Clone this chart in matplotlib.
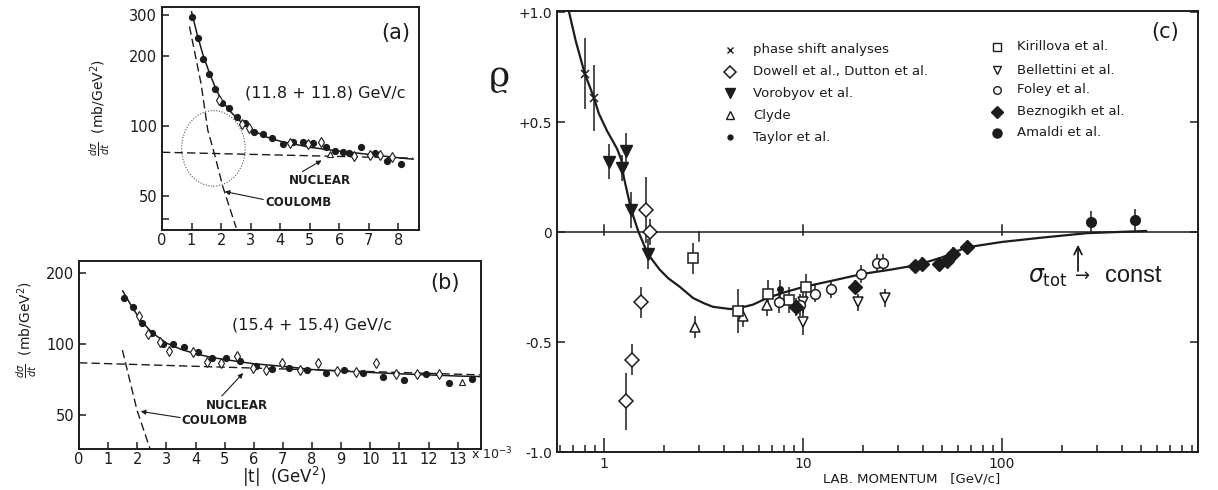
import numpy as np
import matplotlib
matplotlib.use("Agg")
import matplotlib.pyplot as plt
from matplotlib.patches import Ellipse, FancyArrowPatch
from matplotlib.lines import Line2D
from matplotlib.ticker import FixedLocator, FixedFormatter, NullLocator

# ---------------- panel (a): 11.8 + 11.8 GeV/c ----------------
a_t_filled = [1.03, 1.21, 1.40, 1.60, 1.81, 2.03, 2.26, 2.54, 2.82, 3.11, 3.41, 3.72,
              4.09, 4.43, 4.77, 5.10, 5.56, 5.87, 6.12, 6.33, 6.72, 7.20, 7.63, 8.08]
a_val_filled = [295, 240, 194, 168, 144, 126, 119, 109, 103, 94.5, 92, 88.5,
                83.7, 85.6, 85, 84.3, 81.5, 78, 77.5, 76.8, 81.5, 76.3, 70.7, 68.4]
a_t_open = [1.94, 2.70, 2.95, 4.32, 4.94, 5.39, 6.50, 7.03, 7.39, 7.80]
a_val_open = [130, 102, 98, 84.3, 83.7, 85.6, 74.3, 75, 75, 73.3]
a_t_tri = [5.70]
a_val_tri = [75.8]
a_fit_t = [1.0, 1.2, 1.4, 1.6, 1.8, 2.0, 2.3, 2.6, 3.0, 3.5, 4.0, 5.0, 6.0, 7.0, 8.0, 8.5]
a_fit_val = [310, 245, 200, 170, 147, 130, 116, 106, 97, 90, 86, 81, 78, 75.5, 73, 72]
a_nuc_t = [0.0, 8.5]
a_nuc_val = [77.1, 72.7]
a_coul_t = [0.93, 1.32, 1.55, 1.77, 2.06, 2.51]
a_coul_val = [268, 152.6, 96, 76.3, 54.8, 36.5]

# ---------------- panel (b): 15.4 + 15.4 GeV/c ----------------
b_t_filled = [1.54, 1.85, 2.16, 2.50, 2.87, 3.23, 3.62, 4.10, 4.55, 5.05, 5.54, 6.07,
              6.63, 7.20, 7.82, 8.47, 9.09, 9.74, 10.44, 11.17, 11.90, 12.69, 13.48]
b_val_filled = [157, 143, 123, 111.7, 100, 99.7, 97.4, 92.8, 87, 87, 84.7, 80.9,
                78.4, 78.9, 78, 75.5, 77.6, 75.5, 72.7, 70.4, 74.6, 68.6, 70.8]
b_t_open = [2.07, 2.38, 2.78, 3.10, 3.93, 4.38, 4.89, 5.42, 5.98, 6.43, 6.97, 7.57,
            8.19, 8.86, 9.51, 10.21, 10.89, 11.62, 12.35]
b_val_open = [131, 110, 101.7, 93.7, 92.2, 84.1, 82.8, 89, 79, 78, 82.8, 78,
              82.8, 77.1, 75.9, 82.8, 75, 74.6, 74.4]
b_t_tri = [13.14]
b_val_tri = [69.2]
b_fit_t = [1.5, 1.8, 2.1, 2.5, 3.0, 3.5, 4.0, 4.5, 5.0, 6.0, 7.0, 8.0, 9.0, 10.0,
           11.0, 12.0, 13.0, 13.8]
b_fit_val = [168, 145, 127, 112, 101, 95, 91, 88, 86, 82.5, 80.5, 78, 76.8, 75.8,
             74.8, 74, 73.2, 72.8]
b_nuc_t = [0.0, 13.8]
b_nuc_val = [83.3, 74.0]
b_coul_t = [1.49, 1.99, 2.44]
b_coul_val = [94.3, 52.5, 35.9]

# ---------------- panel (c): rho vs lab momentum ----------------
c_curve_p = [0.667, 0.72, 0.80, 0.89, 0.94, 1.035, 1.16, 1.22, 1.256, 1.37, 1.49, 1.66,
             1.9, 2.1, 2.41, 2.8, 3.2, 3.53, 4.3, 4.8, 5.6, 6.6, 8.0, 10.0, 14.2, 20,
             28, 37.4, 50, 66, 100, 160, 268, 530]
c_curve_rho = [1.0, 0.87, 0.72, 0.61, 0.54, 0.46, 0.38, 0.33, 0.25, 0.10, 0.0, -0.10,
               -0.17, -0.21, -0.25, -0.30, -0.325, -0.34, -0.35, -0.345, -0.33, -0.30,
               -0.275, -0.25, -0.22, -0.19, -0.17, -0.15, -0.115, -0.07, -0.045,
               -0.025, -0.005, 0.005]

phase_p, phase_rho, phase_err = [0.80, 0.89], [0.72, 0.61], [0.16, 0.15]
dowell_p = [1.63, 1.70, 1.53, 1.38, 1.29]
dowell_rho = [0.10, 0.0, -0.32, -0.58, -0.77]
dowell_err = [0.15, 0.06, 0.07, 0.07, 0.13]
vorob_p = [1.06, 1.23, 1.29, 1.37, 1.66]
vorob_rho = [0.32, 0.29, 0.37, 0.10, -0.10]
vorob_err = [0.08, 0.06, 0.08, 0.08, 0.07]
clyde_p, clyde_rho, clyde_err = [2.87, 5.0, 6.6], [-0.43, -0.38, -0.33], [0.05, 0.05, 0.05]
taylor_p, taylor_rho, taylor_err = [7.7], [-0.26], [0.04]
kiril_p = [2.80, 4.72, 6.7, 8.5, 10.3]
kiril_rho = [-0.12, -0.36, -0.28, -0.31, -0.25]
kiril_err = [0.07, 0.10, 0.06, 0.06, 0.06]
bell_p = [10.0, 10.0, 18.9, 25.8]
bell_rho = [-0.41, -0.32, -0.32, -0.30]
bell_err = [0.06, 0.05, 0.04, 0.04]
foley_p = [7.6, 9.6, 11.5, 13.8, 19.6, 23.5, 25.2]
foley_rho = [-0.32, -0.33, -0.28, -0.26, -0.19, -0.14, -0.14]
foley_err = [0.05, 0.05, 0.04, 0.04, 0.04, 0.04, 0.04]
bezn_p = [9.2, 18.2, 36.6, 39.6, 48.3, 52.7, 56.9, 66.5]
bezn_rho = [-0.34, -0.25, -0.155, -0.145, -0.145, -0.13, -0.10, -0.07]
bezn_err = [0.04, 0.03, 0.03, 0.03, 0.03, 0.03, 0.03, 0.03]
amaldi_p, amaldi_rho, amaldi_err = [279, 465], [0.045, 0.055], [0.05, 0.05]

legend_left = ["phase shift analyses", "Dowell et al., Dutton et al.", "Vorobyov et al.",
               "Clyde", "Taylor et al."]
legend_right = ["Kirillova et al.", "Bellettini et al.", "Foley et al.",
                "Beznogikh et al.", "Amaldi et al."]

# ---------------- figure set-up ----------------
W, H = 1218, 490
INK = "#1c1c1c"
plt.rcParams["font.family"] = ["DejaVu Sans"]
plt.rcParams["axes.edgecolor"] = INK
plt.rcParams["text.color"] = INK
plt.rcParams["xtick.color"] = INK
plt.rcParams["ytick.color"] = INK

fig = plt.figure(figsize=(W / 100, H / 100), dpi=100)
fig.patch.set_facecolor("white")


def axes_px(l, t, r, b):
    return fig.add_axes([l / W, 1 - b / H, (r - l) / W, (b - t) / H])


def fx(x):
    return x / W


def fy(y):
    return 1 - y / H


def arrow_px(x0, y0, x1, y1):
    fig.add_artist(FancyArrowPatch((fx(x0), fy(y0)), (fx(x1), fy(y1)),
                                   transform=fig.transFigure, arrowstyle="-|>",
                                   mutation_scale=7, color=INK, lw=0.8))


def style_box(ax):
    for s in ax.spines.values():
        s.set_linewidth(1.4)
    ax.tick_params(which="both", direction="in", labelsize=10.5, width=1.1,
                   top=False, right=False)
    ax.tick_params(axis="x", pad=2)
    ax.tick_params(which="major", length=5)
    ax.tick_params(which="minor", length=3)


def cross_section_panel(ax, tf, vf, to, vo, tt, vt, fit_t, fit_v, nuc_t, nuc_v,
                        coul_t, coul_v, xmax, ylim, yticks, ylabels, xticks):
    ax.set_yscale("log")
    ax.set_xlim(0, xmax)
    ax.set_ylim(*ylim)
    ax.plot(fit_t, fit_v, color=INK, lw=1.1)
    ax.plot(nuc_t, nuc_v, color=INK, lw=1.0, ls=(0, (6, 3)))
    ax.plot(coul_t, coul_v, color=INK, lw=1.0, ls=(0, (6, 3)))
    ax.plot(tf, vf, "o", color=INK, ms=4.2, zorder=3)
    ax.plot(to, vo, "d", mfc="white", mec=INK, mew=0.8, ms=5, zorder=3)
    ax.plot(tt, vt, "^", mfc="white", mec=INK, mew=0.8, ms=4.5, zorder=3)
    ax.yaxis.set_major_locator(FixedLocator(yticks))
    ax.yaxis.set_major_formatter(FixedFormatter(ylabels))
    ax.yaxis.set_minor_locator(NullLocator())
    ax.set_xticks(xticks)
    ax.set_xticklabels([str(v) for v in xticks])
    style_box(ax)


# panel (a)
ax_a = axes_px(162, 7, 419, 230)
cross_section_panel(ax_a, a_t_filled, a_val_filled, a_t_open, a_val_open, a_t_tri,
                    a_val_tri, a_fit_t, a_fit_val, a_nuc_t, a_nuc_val, a_coul_t,
                    a_coul_val, 8.7, (35.7, 325), [40, 50, 100, 200, 300],
                    ["", "50", "100", "200", "300"], list(range(0, 9)))
ax_a.add_patch(Ellipse((0.20, 0.366), 0.247, 0.339, transform=ax_a.transAxes,
                       fill=False, ec="#555555", lw=0.8, ls=(0, (1, 1.5))))
ax_a.text(0.635, 0.615, "(11.8 + 11.8) GeV/c", transform=ax_a.transAxes,
          ha="center", va="center", fontsize=11.5)
ax_a.text(0.91, 0.885, "(a)", transform=ax_a.transAxes, ha="center", va="center",
          fontsize=15)
fig.text(fx(320), fy(180), "NUCLEAR", ha="center", va="center", fontsize=8.5,
         fontweight="bold")
fig.text(fx(298), fy(202), "COULOMB", ha="center", va="center", fontsize=8.5,
         fontweight="bold")
arrow_px(300, 173, 324, 159)
arrow_px(266, 200, 222, 191)
fig.text(fx(100), fy(108), r"$\frac{d\sigma}{dt}$  (mb/GeV$^2$)", rotation=90,
         ha="center", va="center", fontsize=10)

# panel (b)
ax_b = axes_px(79, 261, 481, 449)
cross_section_panel(ax_b, b_t_filled, b_val_filled, b_t_open, b_val_open, b_t_tri,
                    b_val_tri, b_fit_t, b_fit_val, b_nuc_t, b_nuc_val, b_coul_t,
                    b_coul_val, 13.8, (35.9, 225), [50, 100, 200],
                    ["50", "100", "200"], list(range(0, 14)))
ax_b.text(0.58, 0.66, "(15.4 + 15.4) GeV/c", transform=ax_b.transAxes,
          ha="center", va="center", fontsize=11.5)
ax_b.text(0.91, 0.885, "(b)", transform=ax_b.transAxes, ha="center", va="center",
          fontsize=15)
fig.text(fx(237), fy(405), "NUCLEAR", ha="center", va="center", fontsize=8.5,
         fontweight="bold")
fig.text(fx(215), fy(420), "COULOMB", ha="center", va="center", fontsize=8.5,
         fontweight="bold")
arrow_px(220, 398, 245, 371)
arrow_px(183, 418, 138, 411)
fig.text(fx(27), fy(330), r"$\frac{d\sigma}{dt}$  (mb/GeV$^2$)", rotation=90,
         ha="center", va="center", fontsize=10)
fig.text(fx(284), fy(477), r"|t|  (GeV$^2$)", ha="center", va="center", fontsize=12)
fig.text(fx(492), fy(454), r"x 10$^{-3}$", ha="center", va="center", fontsize=9)

# panel (c)
ax_c = axes_px(557, 11, 1198, 452)
ax_c.set_xscale("log")
ax_c.set_xlim(0.58, 966)
ax_c.set_ylim(-1.0, 1.005)
ax_c.axhline(0, color=INK, lw=1.1, zorder=1)
for p in [1, 10, 100]:
    ax_c.plot([p, p], [-0.015, 0.03], color=INK, lw=1.1)
for p in [3]:
    ax_c.plot([p, p], [0.0, -0.04], color=INK, lw=1.1)
ax_c.plot(c_curve_p, c_curve_rho, color=INK, lw=1.6, zorder=2)

eb = dict(ecolor=INK, elinewidth=1.1, capsize=0, ls="none", zorder=3)
ax_c.errorbar(phase_p, phase_rho, yerr=phase_err, fmt="x", color=INK, ms=6, mew=1.1, **eb)
ax_c.errorbar(dowell_p, dowell_rho, yerr=dowell_err, fmt="D", mfc="white", mec=INK,
              ms=7, mew=1.1, **eb)
ax_c.errorbar(vorob_p, vorob_rho, yerr=vorob_err, fmt="v", color=INK, ms=8, **eb)
ax_c.errorbar(clyde_p, clyde_rho, yerr=clyde_err, fmt="^", mfc="white", mec=INK,
              ms=7, mew=1.1, **eb)
ax_c.errorbar(taylor_p, taylor_rho, yerr=taylor_err, fmt="o", color=INK, ms=4, **eb)
ax_c.errorbar(kiril_p, kiril_rho, yerr=kiril_err, fmt="s", mfc="white", mec=INK,
              ms=7, mew=1.1, **eb)
ax_c.errorbar(bell_p, bell_rho, yerr=bell_err, fmt="v", mfc="white", mec=INK,
              ms=7, mew=1.1, **eb)
ax_c.errorbar(foley_p, foley_rho, yerr=foley_err, fmt="o", mfc="white", mec=INK,
              ms=7, mew=1.1, **eb)
ax_c.errorbar(bezn_p, bezn_rho, yerr=bezn_err, fmt="D", color=INK, ms=7, **eb)
ax_c.errorbar(amaldi_p, amaldi_rho, yerr=amaldi_err, fmt="o", color=INK, ms=7, **eb)

ax_c.xaxis.set_major_locator(FixedLocator([1, 10, 100, 1000]))
ax_c.xaxis.set_major_formatter(FixedFormatter(["1", "10", "100", "1000"]))
minor = [m * d for d in [0.1, 1, 10, 100] for m in range(2, 10) if 0.58 <= m * d <= 966]
ax_c.xaxis.set_minor_locator(FixedLocator(minor))
ax_c.yaxis.set_major_locator(FixedLocator([-1.0, -0.5, 0, 0.5, 1.0]))
ax_c.yaxis.set_major_formatter(FixedFormatter(["-1.0", "-0.5", "0", "+0.5", "+1.0"]))
for s in ax_c.spines.values():
    s.set_linewidth(1.4)
ax_c.tick_params(which="both", direction="in", right=True, top=False, width=1.1,
                 labelsize=10)
ax_c.tick_params(which="major", length=10)
ax_c.tick_params(which="minor", length=5)
ax_c.tick_params(axis="y", which="major", length=6)

# legend, drawn as two columns of marker + text
legend_styles_left = [dict(marker="x", color=INK, ms=5, mew=1.0, ls="none"),
                      dict(marker="D", mfc="white", mec=INK, ms=6.5, mew=1.1, ls="none"),
                      dict(marker="v", color=INK, ms=7, ls="none"),
                      dict(marker="^", mfc="white", mec=INK, ms=6, mew=1.0, ls="none"),
                      dict(marker="o", color=INK, ms=3.5, ls="none")]
legend_styles_right = [dict(marker="s", mfc="white", mec=INK, ms=5.5, mew=1.0, ls="none"),
                       dict(marker="v", mfc="white", mec=INK, ms=6, mew=1.0, ls="none"),
                       dict(marker="o", mfc="white", mec=INK, ms=5.5, mew=1.0, ls="none"),
                       dict(marker="D", color=INK, ms=6.5, ls="none"),
                       dict(marker="o", color=INK, ms=6.5, ls="none")]
rows_left = [50, 72, 93, 115, 137]
rows_right = [47, 70, 90, 112, 133]
for y, lab, st in zip(rows_left, legend_left, legend_styles_left):
    fig.lines.append(Line2D([fx(730)], [fy(y)], transform=fig.transFigure, **st))
    fig.text(fx(753), fy(y), lab, ha="left", va="center", fontsize=9.5)
for y, lab, st in zip(rows_right, legend_right, legend_styles_right):
    fig.lines.append(Line2D([fx(997)], [fy(y)], transform=fig.transFigure, **st))
    fig.text(fx(1017), fy(y), lab, ha="left", va="center", fontsize=9.5)

fig.text(fx(1165), fy(32), "(c)", ha="center", va="center", fontsize=15)
fig.text(fx(499), fy(76), "\u03f1", ha="center", va="center", fontsize=26,
         family=["DejaVu Serif", "DejaVu Sans"])
fig.text(fx(912), fy(479), "LAB. MOMENTUM   [GeV/c]", ha="center", va="center",
         fontsize=9.5)

# sigma_tot -> const annotation
ax_c.annotate("", xy=(241, -0.045), xytext=(241, -0.19),
              arrowprops=dict(arrowstyle="->", color=INK, lw=1.3, mutation_scale=14))
fig.text(fx(1048), fy(278), r"$\sigma_{\rm tot}$", ha="center", va="center",
         fontsize=17, family=["Liberation Sans", "DejaVu Sans"])
fig.text(fx(1083), fy(276), "\u2192", ha="center", va="center", fontsize=13)
fig.text(fx(1133), fy(276), "const", ha="center", va="center", fontsize=17,
         family=["Liberation Sans", "DejaVu Sans"])

fig.savefig("out.png", dpi=100, facecolor="white")
